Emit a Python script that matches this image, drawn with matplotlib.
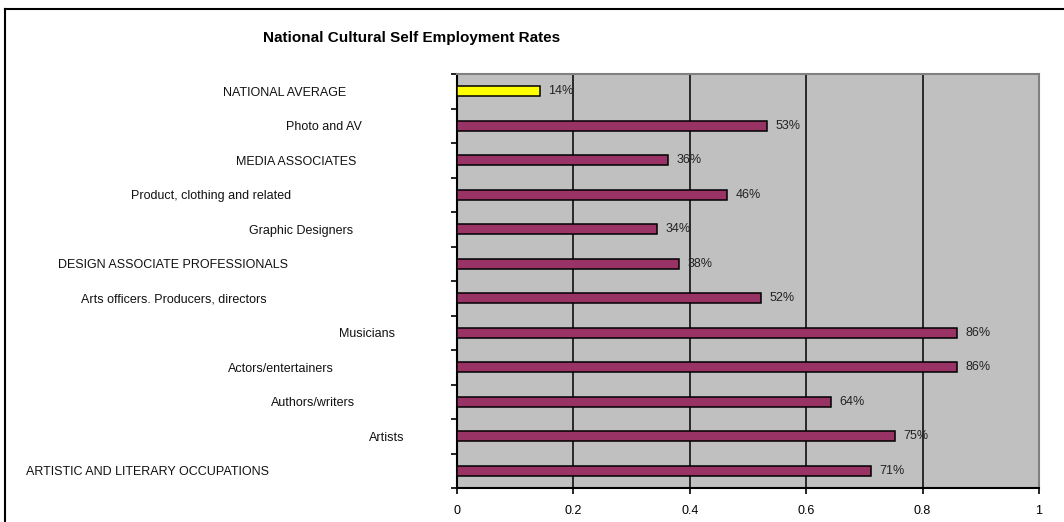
import matplotlib
matplotlib.use("Agg")
import matplotlib.pyplot as plt
import numpy as np
from matplotlib.transforms import blended_transform_factory
from matplotlib.lines import Line2D

plt.rcParams['font.family'] = ['Liberation Sans', 'DejaVu Sans']

# occupations, top to bottom
occupations = ['NATIONAL AVERAGE', 'Photo and AV', 'MEDIA ASSOCIATES',
               'Product, clothing and related', 'Graphic Designers',
               'DESIGN ASSOCIATE PROFESSIONALS', 'Arts officers. Producers, directors',
               'Musicians', 'Actors/entertainers', 'Authors/writers', 'Artists',
               'ARTISTIC AND LITERARY OCCUPATIONS']
self_emp_rate = [0.143, 0.533, 0.363, 0.464, 0.344, 0.381, 0.522,
                 0.859, 0.859, 0.643, 0.753, 0.711]
xticks = [0, 0.2, 0.4, 0.6, 0.8, 1]

W, H = 1064, 522
fig = plt.figure(figsize=(W / 100, H / 100), dpi=100)
ax = fig.add_axes([457 / W, 1 - 488 / H, (1039 - 457) / W, (488 - 74) / H])

colors = ['#FFFF00'] + ['#993366'] * (len(occupations) - 1)
ypos = np.arange(len(occupations))
bars = ax.barh(ypos, self_emp_rate, height=0.3, color=colors,
               edgecolor='black', linewidth=1.1, zorder=3)
ax.bar_label(bars, labels=[f'{v:.0%}' for v in self_emp_rate],
             padding=6, fontsize=9, color='#222222')

ax.set_facecolor('#C0C0C0')
ax.set_xlim(0, 1)
ax.set_ylim(len(occupations) - 0.5, -0.5)
ax.set_xticks(xticks)
ax.set_xticklabels([f'{t:g}' for t in xticks], fontsize=9)
ax.set_yticks(np.arange(-0.5, len(occupations), 1))
ax.set_yticklabels([])
ax.tick_params(axis='y', direction='out', length=4, width=1.2)
ax.tick_params(axis='x', direction='out', length=4, width=1.2, pad=8)
for g in xticks[1:-1]:
    ax.axvline(g, color='black', linewidth=1.1, zorder=1)

for s in ['left', 'bottom']:
    ax.spines[s].set_linewidth(1.5)
    ax.spines[s].set_color('black')
for s in ['top', 'right']:
    ax.spines[s].set_linewidth(1.5)
    ax.spines[s].set_color('#808080')

# category labels sit at staggered positions in the left margin
label_x = [285, 324, 296, 211, 301, 173, 174, 367, 281, 313, 387, 147]
trans = blended_transform_factory(fig.transFigure, ax.transData)
for name, lx, y in zip(occupations, label_x, ypos):
    ax.text(lx / W, y + 0.05, name, transform=trans, ha='center', va='center',
            fontsize=9, color='#111111', clip_on=False)

fig.text(412 / W, 1 - 38 / H, 'National Cultural Self Employment Rates',
         ha='center', va='center', fontsize=11, fontweight='bold')

# chart frame
fig.add_artist(Line2D([5 / W, 1.01], [1 - 9 / H, 1 - 9 / H], color='black',
                      linewidth=1.5, transform=fig.transFigure))
fig.add_artist(Line2D([5 / W, 5 / W], [1 - 9 / H, -0.01], color='black',
                      linewidth=1.5, transform=fig.transFigure))

fig.savefig('out.png', dpi=100)
